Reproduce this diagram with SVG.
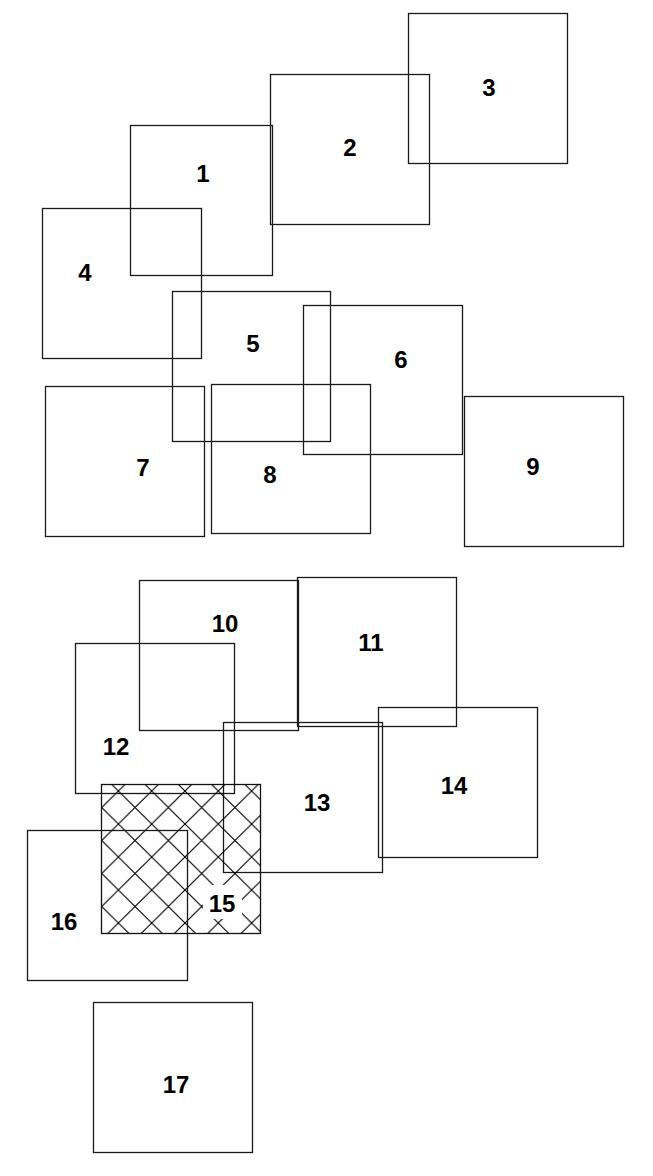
<svg xmlns="http://www.w3.org/2000/svg" width="653" height="1176" viewBox="0 0 653 1176">
<defs>
<pattern id="hatch" patternUnits="userSpaceOnUse" x="118.4" y="791" width="33.3" height="33" >
<path d="M0,0 L33.3,33 M33.3,0 L0,33" stroke="#000" stroke-width="1.1" fill="none"/>
</pattern>
</defs>
<style>
.box{fill:none;stroke:#1a1a1a;stroke-width:1.3}
.lbl{font-family:"Liberation Sans",Arial,sans-serif;font-weight:bold;font-size:24px;fill:#000;text-anchor:middle}
</style>
<rect width="653" height="1176" fill="#fff"/>
<g id="connectors"></g>
<g id="n1"><rect class="box" x="130.5" y="125.5" width="142" height="150"/><text class="lbl" x="203" y="182">1</text></g>
<g id="n2"><rect class="box" x="270.5" y="74.5" width="159" height="150"/><text class="lbl" x="350" y="156">2</text></g>
<g id="n3"><rect class="box" x="408.5" y="13.5" width="159" height="150"/><text class="lbl" x="489" y="96">3</text></g>
<g id="n4"><rect class="box" x="42.5" y="208.5" width="159" height="150"/><text class="lbl" x="85" y="281">4</text></g>
<g id="n5"><rect class="box" x="172.5" y="291.5" width="158" height="150"/><text class="lbl" x="253" y="352">5</text></g>
<g id="n6"><rect class="box" x="303.5" y="305.5" width="159" height="149"/><text class="lbl" x="401" y="368">6</text></g>
<g id="n7"><rect class="box" x="45.5" y="386.5" width="159" height="150"/><text class="lbl" x="143" y="476">7</text></g>
<g id="n8"><rect class="box" x="211.5" y="384.5" width="159" height="149"/><text class="lbl" x="270" y="483">8</text></g>
<g id="n9"><rect class="box" x="464.5" y="396.5" width="159" height="150"/><text class="lbl" x="533" y="475">9</text></g>
<g id="n10"><rect class="box" x="139.5" y="580.5" width="159" height="150"/><text class="lbl" x="225" y="632">10</text></g>
<g id="n11"><rect class="box" x="297.5" y="577.5" width="159" height="149"/><text class="lbl" x="371" y="651">11</text></g>
<g id="n12"><rect class="box" x="75.5" y="643.5" width="159" height="150"/><text class="lbl" x="116" y="755">12</text></g>
<g id="n13"><rect class="box" x="223.5" y="722.5" width="159" height="150"/><text class="lbl" x="317" y="811">13</text></g>
<g id="n14"><rect class="box" x="378.5" y="707.5" width="159" height="150"/><text class="lbl" x="454" y="794">14</text></g>
<g id="n15"><rect x="101.5" y="784.5" width="159" height="149" fill="url(#hatch)" stroke="#111" stroke-width="1.3"/><rect x="203" y="885" width="39" height="34" fill="#fff"/><text class="lbl" x="222" y="912">15</text></g>
<g id="n16"><rect class="box" x="27.5" y="830.5" width="160" height="150"/><text class="lbl" x="64" y="930">16</text></g>
<g id="n17"><rect class="box" x="93.5" y="1002.5" width="159" height="150"/><text class="lbl" x="176" y="1093">17</text></g>
</svg>
